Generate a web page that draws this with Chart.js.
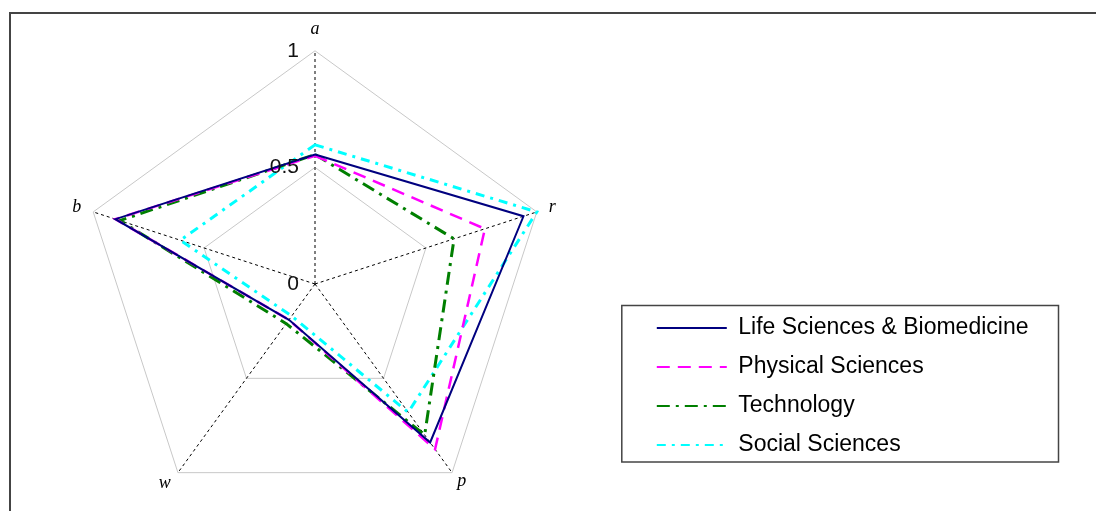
<!DOCTYPE html>
<html>
<head>
<meta charset="utf-8">
<script src="https://cdn.jsdelivr.net/npm/chart.js@4/dist/chart.umd.min.js"></script>
<style>
  html, body { margin: 0; padding: 0; background: #fff; overflow: hidden; }
  #wrap { position: relative; width: 1096px; height: 511px; overflow: hidden; }
  #frame { position: absolute; left: 9px; top: 12px; width: 1200px; height: 600px; border: 2px solid #444; }
  #chart { position: absolute; left: -10px; top: 0; }
</style>
</head>
<body>
<div id="wrap">
  <div id="frame"></div>
  <canvas id="chart" width="1107" height="529"></canvas>
</div>
<script>
const axes = ['a', 'r', 'p', 'w', 'b'];
const tickValues = [0, 0.5, 1];
const tickLabels = ['0', '0.5', '1'];

const lifeSciences = [0.555, 0.94, 0.84, 0.19, 0.90];
const physicalSciences = [0.55, 0.766, 0.876, 0.19, 0.90];
const technology = [0.555, 0.627, 0.80, 0.21, 0.88];
const socialSciences = [0.597, 1.0, 0.68, 0.17, 0.607];

// distance of each axis letter from its spoke end (a, r, p, w, b)
const labelPadding = [21, 12.6, 9, 12, 12.6];

// ticks drawn left of the top axis, like the original
const tickLabelPlugin = {
    id: 'tickLabelPlugin',
    afterDraw(chart) {
        const scale = chart.scales.r;
        const ctx = chart.ctx;
        ctx.save();
        ctx.font = '21px "Liberation Sans", Arial, sans-serif';
        ctx.fillStyle = '#111';
        ctx.textAlign = 'right';
        ctx.textBaseline = 'middle';
        tickValues.forEach((v, i) => {
            const y = scale.yCenter - scale.getDistanceFromCenterForValue(v);
            ctx.fillText(tickLabels[i], scale.xCenter - 16, y);
        });
        ctx.restore();
    }
};

// box around the legend entries
const legendBoxPlugin = {
    id: 'legendBoxPlugin',
    afterDraw(chart) {
        const boxes = chart.legend.legendHitBoxes;
        if (!boxes || !boxes.length) return;
        const first = boxes[0];
        const last = boxes[boxes.length - 1];
        const right = Math.max(...boxes.map(b => b.left + b.width));
        const ctx = chart.ctx;
        const x0 = first.left - 35, y0 = first.top - 11;
        ctx.save();
        ctx.strokeStyle = '#444';
        ctx.lineWidth = 1.5;
        ctx.strokeRect(x0, y0, right + 30 - x0, last.top + last.height + 5.5 - y0);
        ctx.restore();
    }
};

new Chart(document.getElementById('chart'), {
    type: 'radar',
    data: {
        labels: axes,
        datasets: [{
            label: 'Life Sciences & Biomedicine',
            data: lifeSciences,
            borderColor: '#00007f',
            borderWidth: 2,
            borderDash: [],
            fill: false,
            pointRadius: 0
        }, {
            label: 'Physical Sciences',
            data: physicalSciences,
            borderColor: '#ff00ff',
            borderWidth: 2.5,
            borderDash: [13, 8],
            fill: false,
            pointRadius: 0
        }, {
            label: 'Technology',
            data: technology,
            borderColor: '#007f00',
            borderWidth: 3,
            borderDash: [13, 6, 3, 6],
            fill: false,
            pointRadius: 0
        }, {
            label: 'Social Sciences',
            data: socialSciences,
            borderColor: '#00ffff',
            borderWidth: 3,
            borderDash: [9, 6, 3, 6],
            fill: false,
            pointRadius: 0
        }]
    },
    options: {
        responsive: false,
        animation: false,
        layout: {
            padding: { left: 0, right: 58.5, top: 17, bottom: 0 }
        },
        scales: {
            r: {
                min: 0,
                max: 1,
                ticks: { stepSize: 0.5, display: false },
                grid: { color: '#c8c8c8', lineWidth: 1 },
                angleLines: { color: '#000', lineWidth: 1, borderDash: [3, 3] },
                pointLabels: {
                    padding: ctx => labelPadding[ctx.index],
                    color: '#000',
                    font: { family: '"Liberation Serif", "Times New Roman", serif', style: 'italic', size: 18, lineHeight: 0.1 }
                }
            }
        },
        plugins: {
            legend: {
                position: 'right',
                align: 'start',
                title: { display: true, text: '', font: { size: 10 }, padding: { top: 271.5, bottom: 0 } },
                labels: {
                    color: '#000',
                    font: { family: '"Liberation Sans", Arial, sans-serif', size: 23 },
                    padding: 16,
                    usePointStyle: true,
                    pointStyle: 'line',
                    pointStyleWidth: 70,
                    generateLabels(chart) {
                        const items = Chart.defaults.plugins.legend.labels.generateLabels(chart);
                        items.forEach(item => {
                            const ds = chart.data.datasets[item.datasetIndex];
                            item.lineDash = ds.borderDash;
                            item.lineWidth = 2;
                            item.strokeStyle = ds.borderColor;
                        });
                        return items;
                    }
                }
            },
            tooltip: { enabled: false }
        }
    },
    plugins: [tickLabelPlugin, legendBoxPlugin]
});
</script>
</body>
</html>
